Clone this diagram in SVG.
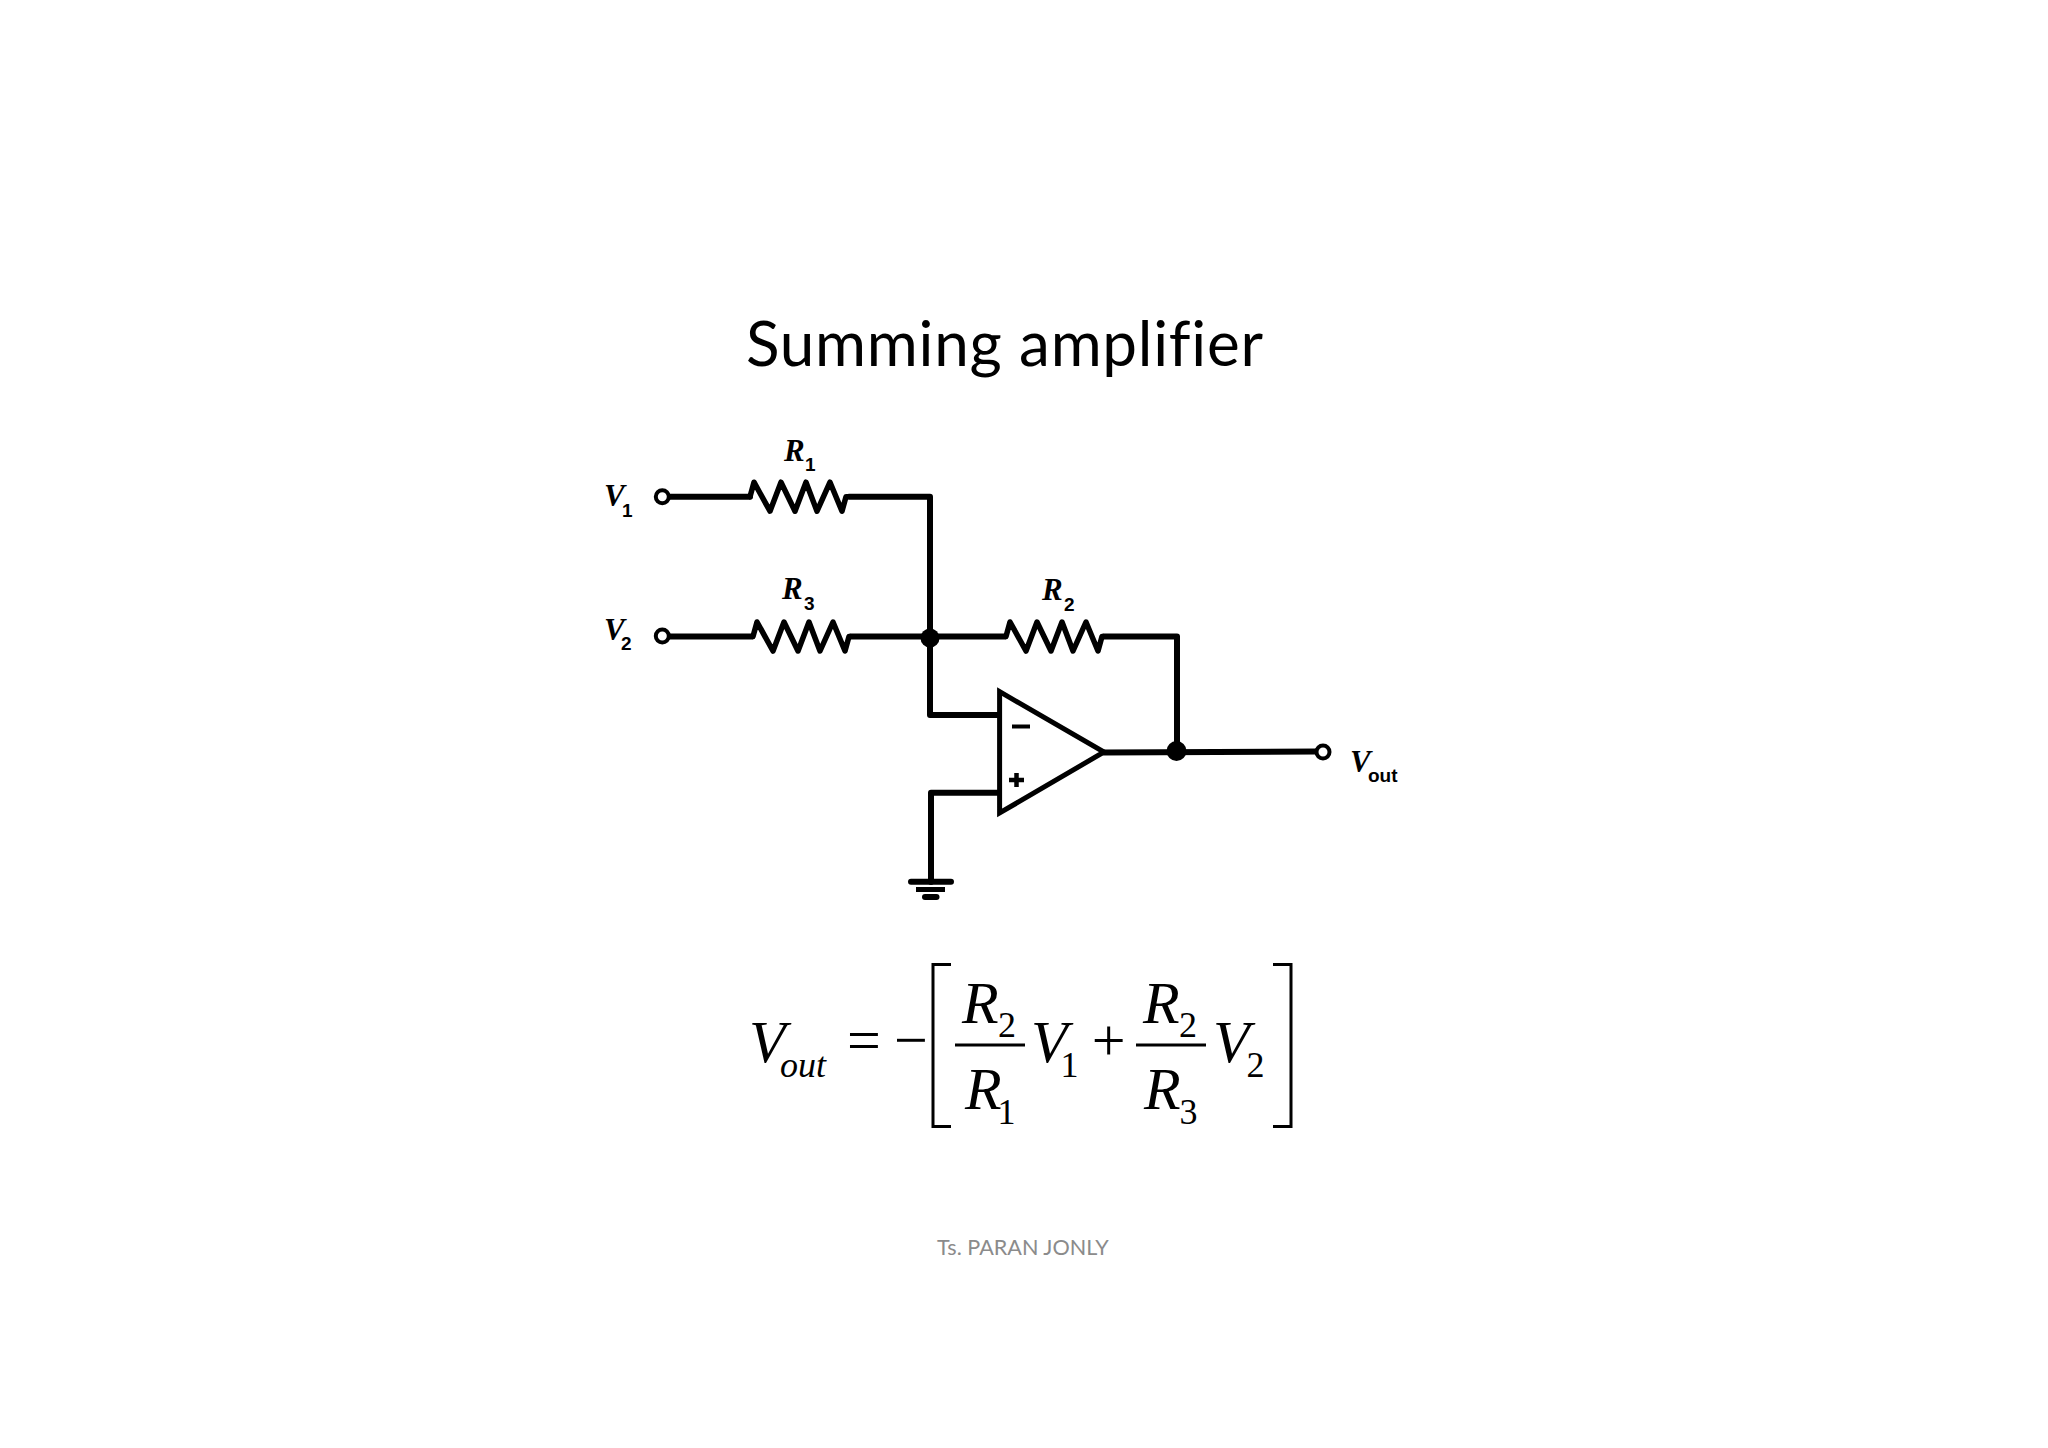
<svg xmlns="http://www.w3.org/2000/svg" width="2048" height="1448" viewBox="0 0 2048 1448">
<defs>
<style>
.w{fill:none;stroke:#000;stroke-width:6;stroke-linejoin:round;stroke-linecap:round}
.z{fill:none;stroke:#000;stroke-width:5.500;stroke-linejoin:round}
.t{fill:#fff;stroke:#000;stroke-width:4}
.dot{fill:#000}
.l{font-family:"Liberation Serif",serif;font-style:italic;font-weight:700;font-size:31px;fill:#000}
.s{font-family:"Liberation Sans",sans-serif;font-weight:700;font-size:19px;fill:#000}
.e{font-family:"Liberation Serif",serif;font-style:italic;font-size:60px;fill:#000}
.es{font-family:"Liberation Serif",serif;font-size:36px;fill:#000}
.eo{font-family:"Liberation Serif",serif;font-size:60px;fill:#000}
.br{fill:none;stroke:#000;stroke-width:3}
</style>
<path id="res" d="M0 0H1L5 -14.500L21 14.500L32 -14.500L46 14.500L57 -14.500L68 14.500L81 -14.500L93 14.500L97 0H99"/>
</defs>
<rect width="2048" height="1448" fill="#fff"/>
<text id="title" x="746" y="366" font-family="Lato,'Open Sans',sans-serif" font-size="62" fill="#000" textLength="517" style="font-variant-ligatures:none">Summing amplifier</text>
<g id="connectors">
<path class="w" d="M669 496.700H750M849 496.700H930V715H999.600"/>
<path class="w" d="M669 636.500H752M851 636.500H1005M1104 636.500H1177V752"/>
<path class="w" d="M1104 752.500L1317 751.500"/>
<path class="w" d="M999.600 792.700H931V882"/>
</g>
<g id="R1"><use href="#res" x="749" y="496.700" class="z"/><text class="l" x="784" y="461">R</text><text class="s" x="805" y="471">1</text></g>
<g id="R3"><use href="#res" x="752" y="636.500" class="z"/><text class="l" x="782" y="599">R</text><text class="s" x="804" y="610">3</text></g>
<g id="R2"><use href="#res" x="1005" y="636.500" class="z"/><text class="l" x="1042" y="600">R</text><text class="s" x="1064" y="611">2</text></g>
<g id="V1"><circle class="t" cx="662.300" cy="496.700" r="6.500"/><text class="l" x="604" y="506">V</text><text class="s" x="622" y="517">1</text></g>
<g id="V2"><circle class="t" cx="662.300" cy="636" r="6.500"/><text class="l" x="604" y="640">V</text><text class="s" x="621" y="650">2</text></g>
<g id="Vout"><circle class="t" cx="1323" cy="752" r="6.500"/><text class="l" x="1350" y="772">V</text><text class="s" x="1368" y="782">out</text></g>
<g id="junction1"><circle class="dot" cx="930" cy="638" r="9.500"/></g>
<g id="junction2"><circle class="dot" cx="1176.500" cy="751" r="10"/></g>
<g id="opamp">
<path d="M999.600 691.700V813L1104 752Z" fill="#fff" stroke="#000" stroke-width="5" stroke-linejoin="miter"/>
<path d="M1012 726.500H1030" stroke="#000" stroke-width="4"/>
<path d="M1009 780H1024M1016.500 773V787" stroke="#000" stroke-width="4.500"/>
</g>
<g id="ground">
<path d="M911 881.700H951" stroke="#000" stroke-width="6" stroke-linecap="round"/>
<path d="M916 889.500H945" stroke="#000" stroke-width="5"/>
<path d="M925 897H936.500" stroke="#000" stroke-width="6" stroke-linecap="round"/>
</g>
<g id="equation">
<text class="e" x="749" y="1062">V</text>
<text class="e" x="780" y="1077" style="font-size:36px">out</text>
<text class="eo" x="847" y="1060">=</text>
<text class="eo" x="894" y="1060">−</text>
<path class="br" d="M951 964.500H933V1126.500H951"/>
<path class="br" d="M1273 964.500H1291V1126.500H1273"/>
<text class="e" x="962" y="1022.500">R</text><text class="es" x="998" y="1037">2</text>
<path d="M955 1045H1025" stroke="#000" stroke-width="3"/>
<text class="e" x="965" y="1109">R</text><text class="es" x="997.500" y="1124">1</text>
<text class="e" x="1031" y="1062">V</text><text class="es" x="1060.500" y="1077">1</text>
<text class="eo" x="1091.700" y="1060">+</text>
<text class="e" x="1143" y="1022.500">R</text><text class="es" x="1179" y="1037">2</text>
<path d="M1136 1045H1206" stroke="#000" stroke-width="3"/>
<text class="e" x="1144" y="1109">R</text><text class="es" x="1179.500" y="1124">3</text>
<text class="e" x="1213" y="1062">V</text><text class="es" x="1246.500" y="1077">2</text>
</g>
<text id="footer" x="937" y="1255" font-family="Lato,'Open Sans',sans-serif" font-size="21.600" fill="#8b8b8b">Ts. PARAN JONLY</text>
</svg>
